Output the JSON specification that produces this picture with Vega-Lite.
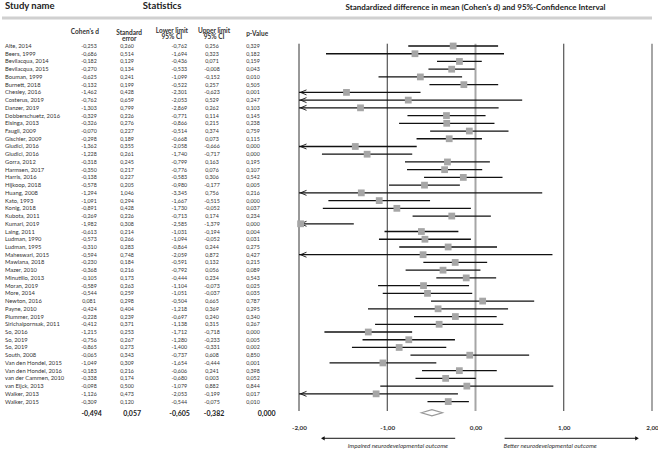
{
  "$schema": "https://vega.github.io/schema/vega-lite/v6.json",
  "padding": 0,
  "spacing": 0,
  "bounds": "flush",
  "config": {
    "view": {"stroke": null},
    "font": "Lato",
    "locale": {"number": {"decimal": ",", "thousands": ".", "grouping": [3], "currency": ["", ""], "minus": "-"}}
  },
  "datasets": {
    "studies": [
      {"id": 1, "study": "Alte, 2014", "d": -0.253, "se": 0.260, "lo": -0.762, "hi": 0.256, "p": 0.329},
      {"id": 2, "study": "Beers, 1999", "d": -0.686, "se": 0.514, "lo": -1.694, "hi": 0.323, "p": 0.182},
      {"id": 3, "study": "Bevilacqua, 2014", "d": -0.182, "se": 0.129, "lo": -0.436, "hi": 0.071, "p": 0.159},
      {"id": 4, "study": "Bevilacqua, 2015", "d": -0.270, "se": 0.134, "lo": -0.533, "hi": -0.008, "p": 0.043},
      {"id": 5, "study": "Bouman, 1999", "d": -0.625, "se": 0.241, "lo": -1.099, "hi": -0.152, "p": 0.010},
      {"id": 6, "study": "Burnett, 2018", "d": -0.132, "se": 0.199, "lo": -0.522, "hi": 0.257, "p": 0.505},
      {"id": 7, "study": "Chesley, 2016", "d": -1.462, "se": 0.428, "lo": -2.301, "hi": -0.623, "p": 0.001},
      {"id": 8, "study": "Costerus, 2019", "d": -0.762, "se": 0.659, "lo": -2.053, "hi": 0.529, "p": 0.247},
      {"id": 9, "study": "Danzer, 2019", "d": -1.303, "se": 0.799, "lo": -2.869, "hi": 0.262, "p": 0.103},
      {"id": 10, "study": "Dobberschuetz, 2016", "d": -0.329, "se": 0.226, "lo": -0.771, "hi": 0.114, "p": 0.145},
      {"id": 11, "study": "Elsinga, 2013", "d": -0.326, "se": 0.276, "lo": -0.866, "hi": 0.215, "p": 0.238},
      {"id": 12, "study": "Faugli, 2009", "d": -0.070, "se": 0.227, "lo": -0.514, "hi": 0.374, "p": 0.759},
      {"id": 13, "study": "Gischler, 2009", "d": -0.298, "se": 0.189, "lo": -0.668, "hi": 0.073, "p": 0.115},
      {"id": 14, "study": "Giudici, 2016", "d": -1.362, "se": 0.355, "lo": -2.058, "hi": -0.666, "p": 0.000},
      {"id": 15, "study": "Giudici, 2016", "d": -1.228, "se": 0.261, "lo": -1.740, "hi": -0.717, "p": 0.000},
      {"id": 16, "study": "Gorra, 2012", "d": -0.318, "se": 0.245, "lo": -0.799, "hi": 0.163, "p": 0.195},
      {"id": 17, "study": "Harmsen, 2017", "d": -0.350, "se": 0.217, "lo": -0.776, "hi": 0.076, "p": 0.107},
      {"id": 18, "study": "Harris, 2016", "d": -0.138, "se": 0.227, "lo": -0.583, "hi": 0.306, "p": 0.542},
      {"id": 19, "study": "Hijkoop, 2018", "d": -0.578, "se": 0.205, "lo": -0.980, "hi": -0.177, "p": 0.005},
      {"id": 20, "study": "Huang, 2008", "d": -1.294, "se": 1.046, "lo": -3.345, "hi": 0.756, "p": 0.216},
      {"id": 21, "study": "Kato, 1993", "d": -1.091, "se": 0.294, "lo": -1.667, "hi": -0.515, "p": 0.000},
      {"id": 22, "study": "Konig, 2018", "d": -0.891, "se": 0.428, "lo": -1.730, "hi": -0.052, "p": 0.037},
      {"id": 23, "study": "Kubota, 2011", "d": -0.269, "se": 0.226, "lo": -0.713, "hi": 0.174, "p": 0.234},
      {"id": 24, "study": "Kumari, 2019", "d": -1.982, "se": 0.308, "lo": -2.585, "hi": -1.379, "p": 0.000},
      {"id": 25, "study": "Laing, 2011", "d": -0.613, "se": 0.214, "lo": -1.031, "hi": -0.194, "p": 0.004},
      {"id": 26, "study": "Ludman, 1990", "d": -0.573, "se": 0.266, "lo": -1.094, "hi": -0.052, "p": 0.031},
      {"id": 27, "study": "Ludman, 1995", "d": -0.310, "se": 0.283, "lo": -0.864, "hi": 0.244, "p": 0.275},
      {"id": 28, "study": "Maheswari, 2015", "d": -0.594, "se": 0.748, "lo": -2.059, "hi": 0.872, "p": 0.427},
      {"id": 29, "study": "Mawlana, 2018", "d": -0.230, "se": 0.184, "lo": -0.591, "hi": 0.132, "p": 0.215},
      {"id": 30, "study": "Mazer, 2010", "d": -0.368, "se": 0.216, "lo": -0.792, "hi": 0.056, "p": 0.089},
      {"id": 31, "study": "Minutillo, 2013", "d": -0.105, "se": 0.173, "lo": -0.444, "hi": 0.234, "p": 0.543},
      {"id": 32, "study": "Moran, 2019", "d": -0.589, "se": 0.263, "lo": -1.104, "hi": -0.073, "p": 0.025},
      {"id": 33, "study": "More, 2014", "d": -0.544, "se": 0.259, "lo": -1.051, "hi": -0.037, "p": 0.035},
      {"id": 34, "study": "Newton, 2016", "d": 0.081, "se": 0.298, "lo": -0.504, "hi": 0.665, "p": 0.787},
      {"id": 35, "study": "Payne, 2010", "d": -0.424, "se": 0.404, "lo": -1.218, "hi": 0.369, "p": 0.295},
      {"id": 36, "study": "Plummer, 2019", "d": -0.228, "se": 0.239, "lo": -0.697, "hi": 0.240, "p": 0.340},
      {"id": 37, "study": "Sirichaipornsak, 2011", "d": -0.412, "se": 0.371, "lo": -1.138, "hi": 0.315, "p": 0.267},
      {"id": 38, "study": "So, 2016", "d": -1.215, "se": 0.253, "lo": -1.712, "hi": -0.718, "p": 0.000},
      {"id": 39, "study": "So, 2019", "d": -0.756, "se": 0.267, "lo": -1.280, "hi": -0.233, "p": 0.005},
      {"id": 40, "study": "So, 2019", "d": -0.865, "se": 0.273, "lo": -1.400, "hi": -0.331, "p": 0.002},
      {"id": 41, "study": "South, 2008", "d": -0.065, "se": 0.343, "lo": -0.737, "hi": 0.608, "p": 0.850},
      {"id": 42, "study": "Van den Hondel, 2015", "d": -1.049, "se": 0.309, "lo": -1.654, "hi": -0.444, "p": 0.001},
      {"id": 43, "study": "Van den Hondel, 2016", "d": -0.183, "se": 0.216, "lo": -0.606, "hi": 0.241, "p": 0.398},
      {"id": 44, "study": "van der Cammen, 2010", "d": -0.338, "se": 0.174, "lo": -0.680, "hi": 0.003, "p": 0.052},
      {"id": 45, "study": "van Eijck, 2013", "d": -0.098, "se": 0.500, "lo": -1.079, "hi": 0.882, "p": 0.844},
      {"id": 46, "study": "Walker, 2013", "d": -1.126, "se": 0.473, "lo": -2.053, "hi": -0.199, "p": 0.017},
      {"id": 47, "study": "Walker, 2015", "d": -0.309, "se": 0.120, "lo": -0.544, "hi": -0.075, "p": 0.010}
    ],
    "summary": [
      {"d": -0.494, "se": 0.057, "lo": -0.605, "hi": -0.382, "p": 0.000}
    ],
    "ticks": [{"v": -2}, {"v": -1}, {"v": 0}, {"v": 1}, {"v": 2}],
    "one": [{}]
  },
  "hconcat": [
    {
      "width": 297,
      "height": 412,
      "data": {"name": "studies"},
      "layer": [
        {
          "mark": {"type": "text", "align": "left", "baseline": "middle", "fontSize": 5.8, "color": "#333"},
          "encoding": {
            "x": {"datum": 0.0101, "type": "quantitative", "scale": {"domain": [0, 1], "nice": false, "zero": false}, "axis": null},
            "y": {"field": "id", "type": "quantitative", "scale": {"domain": [-4.8215, 48.478], "reverse": true, "nice": false, "zero": false}, "axis": null},
            "text": {"field": "study"}
          }
        },
        {
          "mark": {"type": "text", "align": "center", "baseline": "middle", "fontSize": 5.3, "color": "#333"},
          "encoding": {
            "x": {"datum": 0.293, "type": "quantitative"},
            "y": {"field": "id", "type": "quantitative"},
            "text": {"field": "d", "type": "quantitative", "format": ".3f"}
          }
        },
        {
          "mark": {"type": "text", "align": "center", "baseline": "middle", "fontSize": 5.3, "color": "#333"},
          "encoding": {
            "x": {"datum": 0.421, "type": "quantitative"},
            "y": {"field": "id", "type": "quantitative"},
            "text": {"field": "se", "type": "quantitative", "format": ".3f"}
          }
        },
        {
          "mark": {"type": "text", "align": "center", "baseline": "middle", "fontSize": 5.3, "color": "#333"},
          "encoding": {
            "x": {"datum": 0.597, "type": "quantitative"},
            "y": {"field": "id", "type": "quantitative"},
            "text": {"field": "lo", "type": "quantitative", "format": ".3f"}
          }
        },
        {
          "mark": {"type": "text", "align": "center", "baseline": "middle", "fontSize": 5.3, "color": "#333"},
          "encoding": {
            "x": {"datum": 0.707, "type": "quantitative"},
            "y": {"field": "id", "type": "quantitative"},
            "text": {"field": "hi", "type": "quantitative", "format": ".3f"}
          }
        },
        {
          "mark": {"type": "text", "align": "center", "baseline": "middle", "fontSize": 5.3, "color": "#333"},
          "encoding": {
            "x": {"datum": 0.845, "type": "quantitative"},
            "y": {"field": "id", "type": "quantitative"},
            "text": {"field": "p", "type": "quantitative", "format": ".3f"}
          }
        },
        {
          "data": {"name": "summary"},
          "mark": {"type": "text", "align": "center", "baseline": "middle", "fontSize": 7, "fontWeight": "bold", "color": "#222"},
          "encoding": {
            "x": {"datum": 0.302, "type": "quantitative"},
            "y": {"datum": 48.607, "type": "quantitative"},
            "text": {"field": "d", "type": "quantitative", "format": ".3f"}
          }
        },
        {
          "data": {"name": "summary"},
          "mark": {"type": "text", "align": "center", "baseline": "middle", "fontSize": 7, "fontWeight": "bold", "color": "#222"},
          "encoding": {
            "x": {"datum": 0.438, "type": "quantitative"},
            "y": {"datum": 48.607, "type": "quantitative"},
            "text": {"field": "se", "type": "quantitative", "format": ".3f"}
          }
        },
        {
          "data": {"name": "summary"},
          "mark": {"type": "text", "align": "center", "baseline": "middle", "fontSize": 7, "fontWeight": "bold", "color": "#222"},
          "encoding": {
            "x": {"datum": 0.598, "type": "quantitative"},
            "y": {"datum": 48.607, "type": "quantitative"},
            "text": {"field": "lo", "type": "quantitative", "format": ".3f"}
          }
        },
        {
          "data": {"name": "summary"},
          "mark": {"type": "text", "align": "center", "baseline": "middle", "fontSize": 7, "fontWeight": "bold", "color": "#222"},
          "encoding": {
            "x": {"datum": 0.714, "type": "quantitative"},
            "y": {"datum": 48.607, "type": "quantitative"},
            "text": {"field": "hi", "type": "quantitative", "format": ".3f"}
          }
        },
        {
          "data": {"name": "summary"},
          "mark": {"type": "text", "align": "center", "baseline": "middle", "fontSize": 7, "fontWeight": "bold", "color": "#222"},
          "encoding": {
            "x": {"datum": 0.891, "type": "quantitative"},
            "y": {"datum": 48.607, "type": "quantitative"},
            "text": {"field": "p", "type": "quantitative", "format": ".3f"}
          }
        },
        {
          "data": {"name": "one"},
          "mark": {"type": "text", "text": "Study name", "align": "left", "baseline": "middle", "fontSize": 9.5, "fontWeight": "bold", "color": "#222"},
          "encoding": {
            "x": {"datum": 0.0101, "type": "quantitative"},
            "y": {"datum": -4.175, "type": "quantitative"}
          }
        },
        {
          "data": {"name": "one"},
          "mark": {"type": "text", "text": "Statistics", "align": "center", "baseline": "middle", "fontSize": 9.5, "fontWeight": "bold", "color": "#222"},
          "encoding": {
            "x": {"datum": 0.539, "type": "quantitative"},
            "y": {"datum": -4.175, "type": "quantitative"}
          }
        },
        {
          "data": {"name": "one"},
          "mark": {"type": "rule", "color": "#d0d0d0", "strokeWidth": 3},
          "encoding": {
            "y": {"datum": -2.622, "type": "quantitative"}
          }
        },
        {
          "data": {"name": "one"},
          "mark": {"type": "text", "text": "Cohen's d", "align": "center", "baseline": "middle", "fontSize": 6.5, "fontWeight": "bold", "color": "#333"},
          "encoding": {
            "x": {"datum": 0.279, "type": "quantitative"},
            "y": {"datum": -0.85, "type": "quantitative"}
          }
        },
        {
          "data": {"name": "one"},
          "mark": {"type": "text", "text": ["Standard", "error"], "lineHeight": 6, "align": "center", "baseline": "middle", "fontSize": 6.5, "fontWeight": "bold", "color": "#333"},
          "encoding": {
            "x": {"datum": 0.428, "type": "quantitative"},
            "y": {"datum": -0.72, "type": "quantitative"}
          }
        },
        {
          "data": {"name": "one"},
          "mark": {"type": "text", "text": ["Lower limit", "95% CI"], "lineHeight": 6, "align": "center", "baseline": "middle", "fontSize": 6.5, "fontWeight": "bold", "color": "#333"},
          "encoding": {
            "x": {"datum": 0.572, "type": "quantitative"},
            "y": {"datum": -0.979, "type": "quantitative"}
          }
        },
        {
          "data": {"name": "one"},
          "mark": {"type": "text", "text": ["Upper limit", "95% CI"], "lineHeight": 6, "align": "center", "baseline": "middle", "fontSize": 6.5, "fontWeight": "bold", "color": "#333"},
          "encoding": {
            "x": {"datum": 0.714, "type": "quantitative"},
            "y": {"datum": -0.979, "type": "quantitative"}
          }
        },
        {
          "data": {"name": "one"},
          "mark": {"type": "text", "text": "p-Value", "align": "center", "baseline": "middle", "fontSize": 6.5, "fontWeight": "bold", "color": "#333"},
          "encoding": {
            "x": {"datum": 0.859, "type": "quantitative"},
            "y": {"datum": -0.514, "type": "quantitative"}
          }
        }
      ]
    },
    {
      "width": 353,
      "height": 412,
      "layer": [
        {
          "data": {"name": "ticks"},
          "mark": {"type": "rule"},
          "encoding": {
            "x": {"field": "v", "type": "quantitative",
                  "scale": {"domain": [-2, 2], "nice": false, "zero": false, "clamp": true},
                  "axis": {"values": [-2, -1, 0, 1, 2], "format": ".2f", "grid": false, "domain": false, "ticks": false, "labelPadding": 11, "labelFontSize": 6.3, "labelFontWeight": "bold", "labelColor": "#333", "labelFlush": false, "title": null}},
            "y": {"datum": 0.703, "type": "quantitative", "scale": {"domain": [-4.8215, 48.478], "reverse": true, "nice": false, "zero": false}, "axis": null},
            "y2": {"datum": 48.219},
            "color": {"condition": {"test": "datum.v === 0 || datum.v === 2", "value": "#a6a6a6"}, "value": "#333333"},
            "strokeWidth": {"condition": {"test": "datum.v === 0 || datum.v === 2", "value": 2}, "value": 1}
          }
        },
        {
          "data": {"name": "one"},
          "mark": {"type": "text", "text": "Standardized difference in mean (Cohen's d) and 95%-Confidence Interval", "align": "center", "baseline": "middle", "fontSize": 8, "fontWeight": "bold", "color": "#222"},
          "encoding": {
            "x": {"datum": 0, "type": "quantitative"},
            "y": {"datum": -3.916, "type": "quantitative"}
          }
        },
        {
          "data": {"name": "one"},
          "mark": {"type": "rule", "color": "#d0d0d0", "strokeWidth": 3},
          "encoding": {
            "y": {"datum": -2.622, "type": "quantitative"}
          }
        },
        {
          "data": {"name": "studies"},
          "mark": {"type": "rule", "color": "#111", "strokeWidth": 1.3},
          "encoding": {
            "x": {"field": "lo", "type": "quantitative"},
            "x2": {"field": "hi"},
            "y": {"field": "id", "type": "quantitative"}
          }
        },
        {
          "data": {"name": "studies"},
          "transform": [{"filter": "datum.lo < -2"}],
          "mark": {"type": "point", "shape": "M1.5,-0.5L0.3,0L1.5,0.5", "filled": false, "stroke": "#111", "strokeWidth": 0.9, "size": 100, "opacity": 1},
          "encoding": {
            "x": {"field": "lo", "type": "quantitative"},
            "y": {"field": "id", "type": "quantitative"}
          }
        },
        {
          "data": {"name": "studies"},
          "mark": {"type": "point", "shape": "square", "filled": true, "color": "#a6a6a6", "size": 46, "opacity": 1},
          "encoding": {
            "x": {"field": "d", "type": "quantitative"},
            "y": {"field": "id", "type": "quantitative"}
          }
        },
        {
          "data": {"name": "summary"},
          "mark": {"type": "point", "shape": "M-1,0L0,-0.29L1,0L0,0.29Z", "filled": true, "fill": "white", "stroke": "#999999", "strokeWidth": 1.2, "size": 441, "opacity": 1},
          "encoding": {
            "x": {"field": "d", "type": "quantitative"},
            "y": {"datum": 48.44, "type": "quantitative"}
          }
        },
        {
          "data": {"name": "one"},
          "mark": {"type": "rule", "color": "#111", "strokeWidth": 1},
          "encoding": {
            "x": {"datum": -1.73, "type": "quantitative"},
            "x2": {"datum": -0.23},
            "y": {"datum": 51.75, "type": "quantitative"}
          }
        },
        {
          "data": {"name": "one"},
          "mark": {"type": "point", "shape": "triangle-left", "filled": true, "color": "#111", "size": 18, "opacity": 1},
          "encoding": {
            "x": {"datum": -1.73, "type": "quantitative"},
            "y": {"datum": 51.75, "type": "quantitative"}
          }
        },
        {
          "data": {"name": "one"},
          "mark": {"type": "rule", "color": "#111", "strokeWidth": 1},
          "encoding": {
            "x": {"datum": 0.33, "type": "quantitative"},
            "x2": {"datum": 1.83},
            "y": {"datum": 51.75, "type": "quantitative"}
          }
        },
        {
          "data": {"name": "one"},
          "mark": {"type": "point", "shape": "triangle-right", "filled": true, "color": "#111", "size": 18, "opacity": 1},
          "encoding": {
            "x": {"datum": 1.83, "type": "quantitative"},
            "y": {"datum": 51.75, "type": "quantitative"}
          }
        },
        {
          "data": {"name": "one"},
          "mark": {"type": "text", "text": "Impaired neurodevelopmental outcome", "align": "center", "baseline": "middle", "fontSize": 6.2, "fontStyle": "italic", "color": "#333"},
          "encoding": {
            "x": {"datum": -0.88, "type": "quantitative"},
            "y": {"datum": 52.75, "type": "quantitative"}
          }
        },
        {
          "data": {"name": "one"},
          "mark": {"type": "text", "text": "Better neurodevelopmental outcome", "align": "left", "baseline": "middle", "fontSize": 6.2, "fontStyle": "italic", "color": "#333"},
          "encoding": {
            "x": {"datum": 0.317, "type": "quantitative"},
            "y": {"datum": 52.75, "type": "quantitative"}
          }
        }
      ]
    }
  ]
}
